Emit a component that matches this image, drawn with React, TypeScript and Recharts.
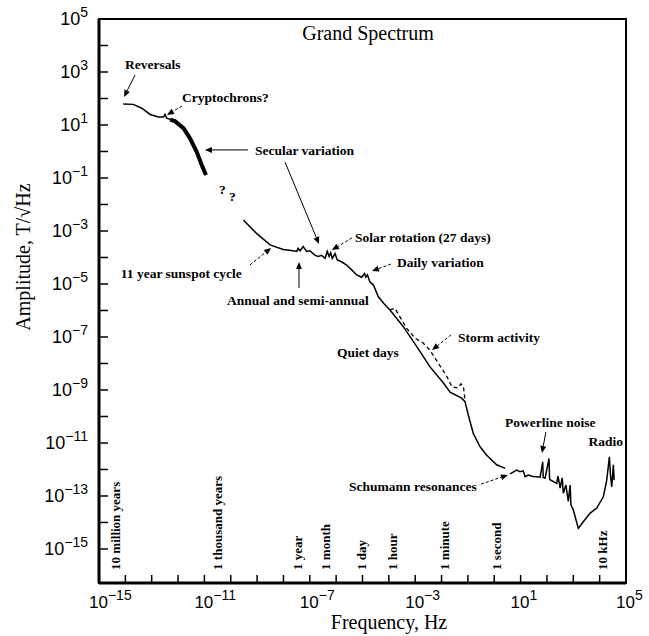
import {
  Line,
  LineChart,
  ReferenceArea,
  ReferenceDot,
  ReferenceLine,
  XAxis,
  YAxis,
} from 'recharts';

// frequency (Hz) / amplitude (T/√Hz)
const longFreq = [8.3e-15, 2.0e-14, 4.2e-14, 8.7e-14, 1.8e-13, 2.8e-13, 3.2e-13, 3.7e-13, 7.6e-13, 1.6e-12, 2.8e-12, 5.1e-12, 7.9e-12, 1.15e-11];
const longAmp = [62, 60, 43, 25, 20, 20, 25, 18, 14, 7.6, 3.2, 0.98, 0.31, 0.13];

// the heavy "secular variation" band
const secularFreq = [5.0e-13, 7.6e-13, 1.6e-12, 2.8e-12, 5.1e-12, 7.9e-12, 1.15e-11];
const secularAmp = [16, 14, 7.6, 3.2, 0.98, 0.31, 0.13];

const midFreq = [
  3.0e-10, 9.5e-10, 3.1e-9, 9.8e-9, 2.3e-8, 3.2e-8, 3.6e-8, 4.3e-8, 5.6e-8, 7.6e-8,
  1.0e-7, 1.6e-7, 2.1e-7, 2.8e-7, 3.8e-7, 4.6e-7, 5.4e-7, 6.2e-7, 7.1e-7, 9.1e-7,
  1.1e-6, 1.6e-6, 2.5e-6, 3.9e-6, 6.0e-6, 9.3e-6, 1.2e-5, 1.35e-5, 1.55e-5, 1.9e-5,
  2.6e-5, 4.0e-5, 6.6e-5, 1.1e-4, 3.5e-4, 1.15e-3, 3.6e-3, 1.2e-2, 2.1e-2, 5.8e-2,
  7.8e-2, 0.1, 0.16, 0.29, 0.51, 1.23, 2.6,
];
const midAmp = [
  2.6e-3, 8.1e-4, 3.0e-4, 2.0e-4, 1.8e-4, 1.7e-4, 2.2e-4, 1.8e-4, 2.6e-4, 1.7e-4,
  1.8e-4, 1.2e-4, 1.1e-4, 1.2e-4, 9.3e-5, 1.7e-4, 1.1e-4, 1.5e-4, 9.3e-5, 1.4e-4,
  8.1e-5, 6.9e-5, 5.2e-5, 3.4e-5, 2.2e-5, 1.8e-5, 2.5e-5, 1.8e-5, 2.2e-5, 1.2e-5,
  9.1e-6, 3.3e-6, 1.8e-6, 1.05e-6, 2.5e-7, 4.3e-8, 7.6e-9, 1.8e-9, 8.3e-10, 4.9e-10,
  3.6e-10, 1.3e-10, 2.3e-11, 7.2e-12, 3.5e-12, 1.5e-12, 1.1e-12,
];

const stormFreq = [1.1e-4, 1.7e-4, 2.6e-4, 4.8e-4, 9.8e-4, 2.0e-3, 3.6e-3, 7.4e-3, 1.6e-2, 2.5e-2, 4.2e-2, 5.5e-2, 6.8e-2, 7.8e-2];
const stormAmp = [1.05e-6, 1.2e-6, 5.9e-7, 2.1e-7, 9.1e-8, 5.9e-8, 3.2e-8, 1.05e-8, 3.2e-9, 1.3e-9, 1.2e-9, 1.7e-9, 1.3e-9, 4.0e-10];

const highFreq = [
  4.0, 7.1, 9.5, 12.6, 14.8, 19.5, 30, 55, 69, 72, 85, 120, 126, 234, 263, 316, 380, 417,
  525, 646, 759, 813, 1000, 1550, 2400, 4270, 7760, 13800, 18600, 23400, 25700, 28800, 33100, 35500,
];
const highAmp = [
  6.8e-13, 9.5e-13, 8.3e-13, 8.9e-13, 5.4e-13, 6.2e-13, 5.4e-13, 5.1e-13, 1.95e-12, 5.0e-13,
  4.7e-13, 2.6e-12, 4.2e-13, 3.0e-13, 5.6e-13, 2.0e-13, 4.8e-13, 1.26e-13, 2.6e-13, 6.2e-14,
  2.6e-13, 4.6e-14, 3.0e-14, 6.0e-15, 1.07e-14, 2.2e-14, 3.5e-14, 9.3e-14, 4.0e-13, 3.0e-12,
  6.3e-13, 2.2e-13, 1.5e-12, 4.0e-13,
];

const xTicks = [
  1e-15, 1e-14, 1e-13, 1e-12, 1e-11, 1e-10, 1e-9, 1e-8, 1e-7, 1e-6, 1e-5,
  1e-4, 1e-3, 1e-2, 1e-1, 1, 10, 100, 1e3, 1e4, 1e5,
];
const yTicks = [
  1e5, 1e4, 1e3, 100, 10, 1, 1e-1, 1e-2, 1e-3, 1e-4, 1e-5, 1e-6, 1e-7, 1e-8,
  1e-9, 1e-10, 1e-11, 1e-12, 1e-13, 1e-14, 1e-15,
];
const xLabelled = [-15, -11, -7, -3, 1, 5];
const yLabelled = [5, 3, 1, -1, -3, -5, -7, -9, -11, -13, -15];

// annotation text, positions as log10 of (frequency, amplitude)
const notes = [
  { text: 'Reversals', lx: -14.01, ly: 3.11 },
  { text: 'Cryptochrons?', lx: -11.85, ly: 1.87 },
  { text: 'Secular variation', lx: -9.08, ly: -0.13 },
  { text: '?', lx: -10.45, ly: -1.6 },
  { text: '?', lx: -10.07, ly: -1.87 },
  { text: '11 year sunspot cycle', lx: -14.17, ly: -4.77 },
  { text: 'Annual and semi-annual', lx: -10.14, ly: -5.79 },
  { text: 'Solar rotation (27 days)', lx: -5.28, ly: -3.42 },
  { text: 'Daily variation', lx: -3.69, ly: -4.36 },
  { text: 'Storm activity', lx: -1.38, ly: -7.19 },
  { text: 'Quiet days', lx: -5.97, ly: -7.75 },
  { text: 'Schumann resonances', lx: -5.51, ly: -12.81 },
  { text: 'Powerline noise', lx: 0.41, ly: -10.4 },
  { text: 'Radio', lx: 4.89, ly: -11.11, end: true },
];

const periods = [
  { text: '10 million years', lx: -14.39 },
  { text: '1 thousand years', lx: -10.52 },
  { text: '1 year', lx: -7.45 },
  { text: '1 month', lx: -6.42 },
  { text: '1 day', lx: -5.02 },
  { text: '1 hour', lx: -3.88 },
  { text: '1 minute', lx: -1.87 },
  { text: '1 second', lx: 0.07 },
  { text: '10 kHz', lx: 4.09 },
];

const arrows = [
  { from: [-13.63, 2.89], to: [-14.05, 2.06], dashed: false },
  { from: [-11.85, 1.72], to: [-12.42, 1.38], dashed: true },
  { from: [-9.35, 0.06], to: [-10.98, 0.06], dashed: false },
  { from: [-7.94, -0.4], to: [-6.65, -3.49], dashed: false },
  { from: [-9.27, -4.28], to: [-8.47, -3.64], dashed: true },
  { from: [-7.41, -5.15], to: [-7.41, -4.17], dashed: false },
  { from: [-5.4, -3.26], to: [-6.16, -3.72], dashed: true },
  { from: [-3.92, -4.25], to: [-4.64, -4.51], dashed: true },
  { from: [-1.64, -6.92], to: [-2.36, -7.49], dashed: true },
  { from: [-0.5, -12.55], to: [0.52, -12.21], dashed: true },
  { from: [1.96, -10.58], to: [1.81, -11.38], dashed: false },
];

const zip = (f: number[], a: number[]) => f.map((v, i) => ({ f: v, a: a[i] }));
const p10 = (v: number) => Math.pow(10, v);

const SERIF = "'Liberation Serif', 'Times New Roman', serif";
const SANS = "'Liberation Sans', Arial, sans-serif";

const sup = (e: number) => (e < 0 ? '\u2212' + Math.abs(e) : String(e));

const XTick = (props: any) => {
  const { x, y, payload } = props;
  const e = Math.round(Math.log10(payload.value));
  return (
    <g>
      <line x1={x} x2={x} y1={y} y2={y - 8} stroke="#000" strokeWidth={1.5} />
      {xLabelled.includes(e) && (
        <text x={x - 10} y={y + 25} fontFamily={SANS} fontSize={17} fill="#000">
          10
          <tspan dy={-8} fontSize={14}>
            {sup(e)}
          </tspan>
        </text>
      )}
    </g>
  );
};

const YTick = (props: any) => {
  const { x, y, payload } = props;
  const e = Math.round(Math.log10(payload.value));
  return (
    <g>
      <line x1={x} x2={x + 9} y1={y} y2={y} stroke="#000" strokeWidth={1.5} />
      {yLabelled.includes(e) && (
        <text x={x - 11} y={y + 6} textAnchor="end" fontFamily={SANS} fontSize={18} fill="#000">
          10
          <tspan dy={-8} fontSize={14}>
            {sup(e)}
          </tspan>
        </text>
      )}
    </g>
  );
};

const noteShape = (text: string, end?: boolean) => (p: any) => (
  <text
    x={p.cx}
    y={p.cy}
    textAnchor={end ? 'end' : 'start'}
    fontFamily={SERIF}
    fontWeight="bold"
    fontSize={13.5}
    fill="#000"
  >
    {text}
  </text>
);

const periodShape = (text: string) => (p: any) => (
  <text
    x={p.cx}
    y={p.cy}
    transform={`rotate(-90 ${p.cx} ${p.cy})`}
    dominantBaseline="central"
    fontFamily={SERIF}
    fontWeight="bold"
    fontSize={13}
    fill="#000"
  >
    {text}
  </text>
);

const titleShape = (p: any) => (
  <text x={p.cx} y={p.cy} textAnchor="middle" fontFamily={SERIF} fontSize={20} fill="#000">
    Grand Spectrum
  </text>
);

const arrowShape = (dashed: boolean) => (p: any) => {
  const { x1, y1, x2, y2 } = p;
  const a = Math.atan2(y2 - y1, x2 - x1);
  const len = 7;
  const w = 3;
  const bx = x2 - len * Math.cos(a);
  const by = y2 - len * Math.sin(a);
  const pts = `${x2},${y2} ${bx - w * Math.sin(a)},${by + w * Math.cos(a)} ${bx + w * Math.sin(a)},${by - w * Math.cos(a)}`;
  return (
    <g>
      <line
        x1={x1}
        y1={y1}
        x2={bx}
        y2={by}
        stroke="#000"
        strokeWidth={1}
        strokeDasharray={dashed ? '3 2' : undefined}
      />
      <polygon points={pts} fill="#000" />
    </g>
  );
};

export default function App() {
  return (
    <div style={{ position: 'absolute', left: 0, top: 0, background: '#fff' }}>
      <LineChart width={649} height={636} margin={{ top: 19, right: 23, left: 9, bottom: 13 }}>
        <XAxis
          dataKey="f"
          type="number"
          scale="log"
          domain={[1e-15, 1e5]}
          allowDataOverflow
          ticks={xTicks}
          interval={0}
          tick={XTick}
          tickLine={false}
          tickSize={0}
          tickMargin={0}
          height={40}
          axisLine={{ stroke: '#000', strokeWidth: 3 }}
          label={{
            content: (p: any) => {
              const vb = p.viewBox ?? { x: 99, y: 583 };
              return (
                <text x={vb.x + 290} y={vb.y + 46} textAnchor="middle" fontFamily={SERIF} fontSize={20} fill="#000">
                  Frequency, Hz
                </text>
              );
            },
          }}
        />
        <YAxis
          dataKey="a"
          type="number"
          scale="log"
          domain={[5.2e-17, 1e5]}
          allowDataOverflow
          ticks={yTicks}
          interval={0}
          tick={YTick}
          tickLine={false}
          tickSize={0}
          tickMargin={0}
          width={90}
          axisLine={{ stroke: '#000', strokeWidth: 3 }}
          label={{
            content: (p: any) => {
              const vb = p.viewBox ?? { x: 9, y: 19 };
              const cx = vb.x + 14;
              const cy = vb.y + 238;
              return (
                <text
                  x={cx}
                  y={cy}
                  transform={`rotate(-90 ${cx} ${cy})`}
                  textAnchor="middle"
                  dominantBaseline="central"
                  fontFamily={SERIF}
                  fontSize={20}
                  fill="#000"
                >
                  Amplitude, T/√Hz
                </text>
              );
            },
          }}
        />
        <ReferenceArea x1={1e-15} x2={1e5} y1={5.2e-17} y2={1e5} fill="none" stroke="#000" strokeWidth={2} />
        <Line data={zip(longFreq, longAmp)} dataKey="a" stroke="#000" strokeWidth={1.5} dot={false} isAnimationActive={false} />
        <Line data={zip(secularFreq, secularAmp)} dataKey="a" stroke="#000" strokeWidth={4} dot={false} isAnimationActive={false} />
        <Line data={zip(midFreq, midAmp)} dataKey="a" stroke="#000" strokeWidth={1.5} dot={false} isAnimationActive={false} />
        <Line
          data={zip(stormFreq, stormAmp)}
          dataKey="a"
          stroke="#000"
          strokeWidth={1.3}
          strokeDasharray="4 3"
          dot={false}
          isAnimationActive={false}
        />
        <Line data={zip(highFreq, highAmp)} dataKey="a" stroke="#000" strokeWidth={1.5} dot={false} isAnimationActive={false} />
        {arrows.map((ar, i) => (
          <ReferenceLine
            key={'ar' + i}
            segment={[
              { x: p10(ar.from[0]), y: p10(ar.from[1]) },
              { x: p10(ar.to[0]), y: p10(ar.to[1]) },
            ]}
            shape={arrowShape(ar.dashed)}
          />
        ))}
        {notes.map((n, i) => (
          <ReferenceDot key={'n' + i} x={p10(n.lx)} y={p10(n.ly)} r={1} shape={noteShape(n.text, n.end)} />
        ))}
        {periods.map((n, i) => (
          <ReferenceDot key={'p' + i} x={p10(n.lx)} y={p10(-15.79)} r={1} shape={periodShape(n.text)} />
        ))}
        <ReferenceDot x={p10(-4.79)} y={p10(4.21)} r={1} shape={titleShape} />
      </LineChart>
    </div>
  );
}
